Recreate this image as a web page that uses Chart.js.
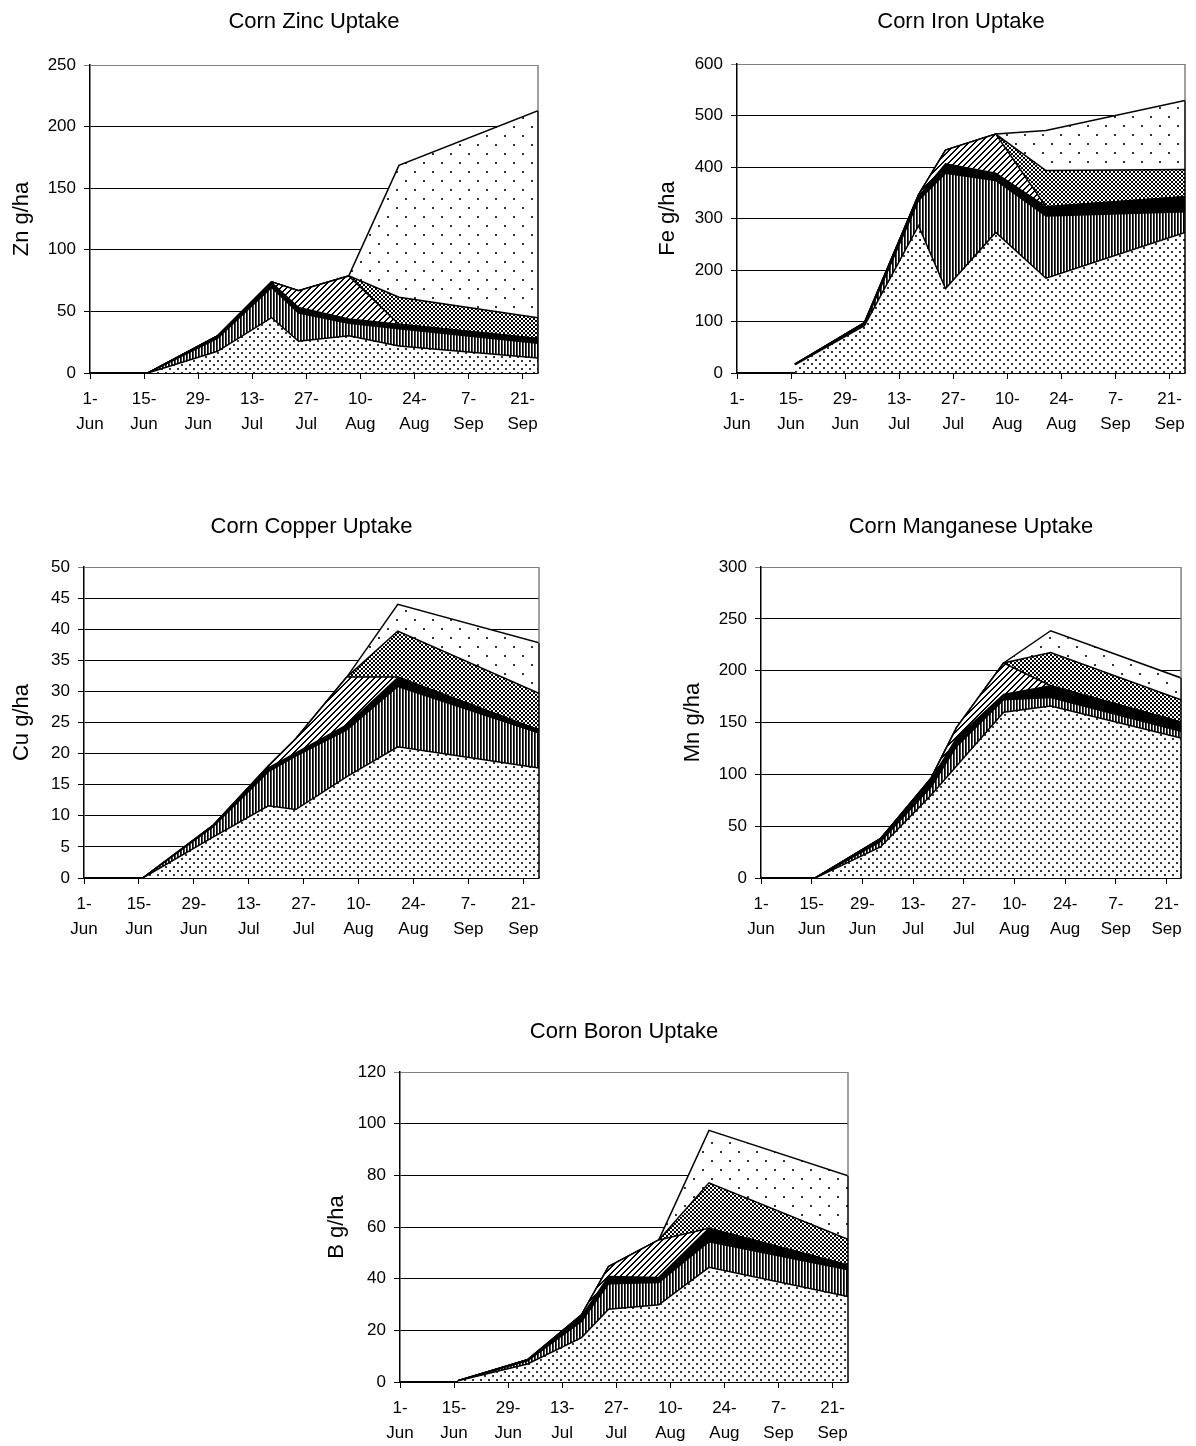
<!DOCTYPE html>
<html>
<head>
<meta charset="utf-8">
<script src="https://cdn.jsdelivr.net/npm/chart.js@4.4.1/dist/chart.umd.min.js"></script>
<style>
  body { margin: 0; background: #fff; width: 1196px; height: 1446px; position: relative; overflow: hidden; }
  canvas { position: absolute; }
</style>
</head>
<body>
<canvas id="zn"></canvas>
<canvas id="fe"></canvas>
<canvas id="cu"></canvas>
<canvas id="mn"></canvas>
<canvas id="b"></canvas>
<script>
// sampling dates and axis ticks
const sampleDates = ['16-Jun', '4-Jul', '18-Jul', '25-Jul', '7-Aug', '20-Aug', '25-Sep'];
const xTickLabels = ['1-Jun', '15-Jun', '29-Jun', '13-Jul', '27-Jul', '10-Aug', '24-Aug', '7-Sep', '21-Sep'];
const axisEnd = '25-Sep';

// layers, bottom to top (g/ha added by each layer)
const zincS1 = [0, 17.6, 45, 25.7, 30.3, 22, 12.2];
const zincS2 = [0, 10.5, 24.5, 23, 10, 14, 12];
const zincS3 = [0, 2, 4, 4.5, 3.5, 3.5, 3.7];
const zincS4 = [0, 0, 0.5, 13.5, 35, 0, 0];
const zincS5 = [0, 0, 0, 0, 0, 22, 17];
const zincS6 = [0, 0, 0, 0, 0, 107, 168];

const ironS1 = [16, 92, 286, 164, 273, 184, 273];
const ironS2 = [1, 2, 49, 224, 101, 121, 40];
const ironS3 = [0, 2, 8, 18, 14, 18, 29];
const ironS4 = [0, 2, 3, 27, 76, 0, 0];
const ironS5 = [0, 0, 0, 0, 0, 70, 53];
const ironS6 = [0, 0, 0, 0, 0, 78, 134];

const copperS1 = [0, 6.6, 11.6, 11, 16.3, 21.1, 17.7];
const copperS2 = [0, 1.7, 5.5, 8.6, 7.5, 9.7, 5.6];
const copperS3 = [0, 0.2, 0.6, 0.5, 0.8, 1.4, 0.5];
const copperS4 = [0, 0, 0.3, 2.3, 7.7, 0.1, 0];
const copperS5 = [0, 0, 0, 0, 0, 7.4, 5.9];
const copperS6 = [0, 0, 0, 0, 0, 4.3, 8.1];

const manganeseS1 = [0, 30, 80, 108, 160, 166, 135];
const manganeseS2 = [0, 5, 8, 19, 12, 8, 6.5];
const manganeseS3 = [0, 3, 7, 8, 5, 11.5, 9];
const manganeseS4 = [0, 0, 1.5, 10, 30.4, 0, 0];
const manganeseS5 = [0, 0, 0, 0, 0, 32, 21.5];
const manganeseS6 = [0, 0, 0, 0, 0, 21, 21];

const boronS1 = [0.5, 7, 17.2, 28.2, 29.9, 44.4, 33.1];
const boronS2 = [0, 1.2, 6.2, 9.8, 8.6, 9.9, 10.3];
const boronS3 = [0, 0.4, 2, 2.8, 2, 5.2, 1.9];
const boronS4 = [0, 0, 0.6, 3.9, 14.5, 0, 0];
const boronS5 = [0, 0, 0, 0, 0, 17.6, 9.9];
const boronS6 = [0, 0, 0, 0, 0, 20.3, 24.6];

const monthStart = { Jun: 0, Jul: 30, Aug: 61, Sep: 92 };
function dayOf(label) {
    const [d, m] = label.split('-');
    return monthStart[m] + Number(d) - 1;
}

const sampleDays = sampleDates.map(dayOf);
const tickDays = xTickLabels.map(dayOf);

// fill patterns
function makePattern(w, h, draw) {
    const c = document.createElement('canvas');
    c.width = w;
    c.height = h;
    const g = c.getContext('2d');
    g.fillStyle = '#fff';
    g.fillRect(0, 0, w, h);
    draw(g);
    return g.createPattern(c, 'repeat');
}

const fineDots = makePattern(8, 8, g => {
    g.fillStyle = '#333';
    g.fillRect(0, 0, 2, 2);
    g.fillRect(4, 4, 2, 2);
});
const vStripes = makePattern(3, 1, g => {
    g.fillStyle = '#000';
    g.fillRect(0, 0, 1, 1);
    g.fillStyle = '#444';
    g.fillRect(1, 0, 1, 1);
});
const solid = '#000';
const diagonal = makePattern(6, 6, g => {
    g.fillStyle = '#000';
    for (let x = 0; x < 6; x++) {
        for (let y = 0; y < 6; y++) {
            if ((x + y) % 6 < 2) g.fillRect(x, y, 1, 1);
        }
    }
});
const checker = makePattern(4, 4, g => {
    g.fillStyle = '#000';
    g.fillRect(0, 0, 4, 4);
    g.fillStyle = '#fff';
    g.fillRect(0, 0, 2, 2);
    g.fillRect(2, 2, 2, 2);
});
const sparseDots = makePattern(18, 18, g => {
    g.fillStyle = '#333';
    g.fillRect(0, 0, 2, 2);
    g.fillRect(9, 9, 2, 2);
});
const layerFills = [fineDots, vStripes, solid, diagonal, checker, sparseDots];

const FONT = "'Liberation Sans', Arial, sans-serif";

// grey frame on the right of the plot, black where the stacked area meets it
const frame = {
    id: 'frame',
    afterDatasetsDraw(chart) {
        const a = chart.chartArea;
        const ctx = chart.ctx;
        const topMeta = chart.getDatasetMeta(chart.data.datasets.length - 1);
        const lastPt = topMeta.data[topMeta.data.length - 1];
        ctx.save();
        ctx.lineWidth = 1.5;
        ctx.strokeStyle = '#808080';
        ctx.beginPath();
        ctx.moveTo(a.right, a.top);
        ctx.lineTo(a.right, lastPt.y);
        ctx.stroke();
        ctx.strokeStyle = '#000';
        ctx.beginPath();
        ctx.moveTo(a.right, lastPt.y);
        ctx.lineTo(a.right, a.bottom);
        ctx.stroke();
        ctx.restore();
    }
};

function makeChart(p) {
    const canvas = document.getElementById(p.id);
    const left = Math.round(p.yTitleX - 13);
    const top = p.plot[1] - 65;
    const xAxisHeight = 72;
    const width = p.plot[2] + 9 - left;
    const height = p.plot[3] - top + xAxisHeight;
    canvas.width = width;
    canvas.height = height;
    canvas.style.left = left + 'px';
    canvas.style.top = top + 'px';
    const yAxisWidth = p.plot[0] - left;
    const padTop = p.titleY - top - 13.2;

    const datasets = p.series.map((vals, i) => ({
        data: sampleDays.map((x, j) => ({ x: x, y: vals[j] })),
        backgroundColor: layerFills[i],
        borderColor: '#000',
        borderWidth: 1.5,
        pointRadius: 0,
        tension: 0,
        fill: i === 0 ? 'origin' : '-1'
    }));

    new Chart(canvas, {
        type: 'line',
        data: { datasets: datasets },
        plugins: [frame],
        options: {
            responsive: false,
            animation: false,
            layout: { padding: { left: 0, right: 8, top: 0, bottom: 0 } },
            plugins: {
                legend: { display: false },
                tooltip: { enabled: false },
                title: {
                    display: true,
                    text: p.title,
                    color: '#000',
                    fullSize: false,
                    font: { family: FONT, size: 22, weight: 'normal' },
                    padding: { top: padTop, bottom: 65 - padTop - 26.4 }
                }
            },
            scales: {
                x: {
                    type: 'linear',
                    min: 0,
                    max: dayOf(axisEnd),
                    afterBuildTicks: s => { s.ticks = tickDays.map(v => ({ value: v })); },
                    afterFit: s => { s.height = xAxisHeight; },
                    ticks: {
                        autoSkip: false,
                        maxRotation: 0,
                        color: '#000',
                        padding: 8,
                        font: { family: FONT, size: 17, lineHeight: 1.47 },
                        callback: v => {
                            const lab = xTickLabels[tickDays.indexOf(v)] || '';
                            const parts = lab.split('-');
                            return [parts[0] + '-', parts[1]];
                        }
                    },
                    grid: { drawOnChartArea: false, color: '#000', tickLength: 6, lineWidth: 1 },
                    border: { color: '#000', width: 1.5 }
                },
                y: {
                    stacked: true,
                    min: 0,
                    max: p.max,
                    afterFit: s => { s.width = yAxisWidth; },
                    ticks: {
                        stepSize: p.step,
                        color: '#000',
                        padding: 8,
                        font: { family: FONT, size: 17 }
                    },
                    grid: {
                        color: c => (c.tick && c.tick.value === p.max ? '#808080' : '#000'),
                        lineWidth: 1,
                        tickLength: 6
                    },
                    border: { color: '#000', width: 1.5 },
                    title: {
                        display: true,
                        text: p.axis,
                        color: '#000',
                        padding: { top: 0, bottom: 0 },
                        font: { family: FONT, size: 22 }
                    }
                }
            }
        }
    });
}

makeChart({ id: 'zn', title: 'Corn Zinc Uptake', axis: 'Zn g/ha', max: 250, step: 50,
    series: [zincS1, zincS2, zincS3, zincS4, zincS5, zincS6],
    plot: [90, 65, 537, 373], yTitleX: 22, titleY: 22 });
makeChart({ id: 'fe', title: 'Corn Iron Uptake', axis: 'Fe g/ha', max: 600, step: 100,
    series: [ironS1, ironS2, ironS3, ironS4, ironS5, ironS6],
    plot: [737, 64, 1184, 373], yTitleX: 668, titleY: 22 });
makeChart({ id: 'cu', title: 'Corn Copper Uptake', axis: 'Cu g/ha', max: 50, step: 5,
    series: [copperS1, copperS2, copperS3, copperS4, copperS5, copperS6],
    plot: [84, 567, 538, 878], yTitleX: 22, titleY: 527 });
makeChart({ id: 'mn', title: 'Corn Manganese Uptake', axis: 'Mn g/ha', max: 300, step: 50,
    series: [manganeseS1, manganeseS2, manganeseS3, manganeseS4, manganeseS5, manganeseS6],
    plot: [761, 567, 1181, 878], yTitleX: 693, titleY: 527 });
makeChart({ id: 'b', title: 'Corn Boron Uptake', axis: 'B g/ha', max: 120, step: 20,
    series: [boronS1, boronS2, boronS3, boronS4, boronS5, boronS6],
    plot: [400, 1072, 847, 1382], yTitleX: 337, titleY: 1032 });
</script>
</body>
</html>
